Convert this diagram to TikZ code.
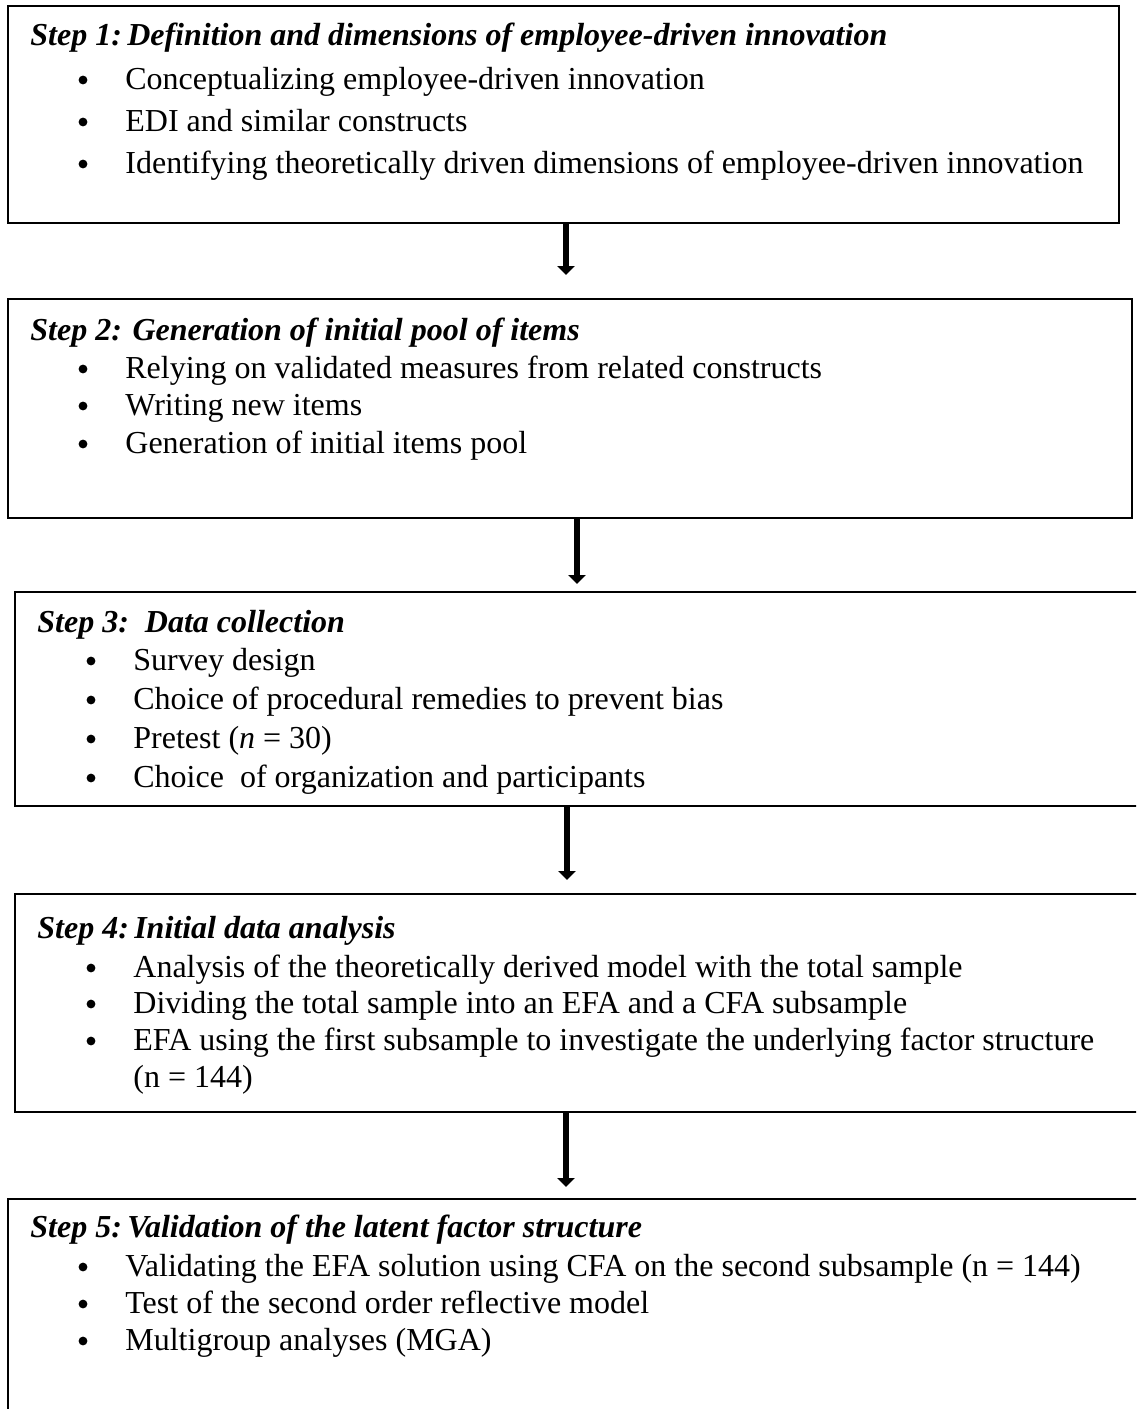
\documentclass[tikz,border=0pt]{standalone}
\usepackage{fontspec}
\setmainfont{Liberation Serif}
\usetikzlibrary{arrows.meta}
\begin{document}
\begin{tikzpicture}[x=0.5pt,y=-0.5pt,
  stepbox/.style={draw=black,line width=1.4pt,rectangle,anchor=north west,inner sep=0pt,outer sep=0pt},
  steptitle/.style={anchor=base west,inner sep=0pt,font=\fontsize{16}{18}\selectfont\bfseries\itshape},
  item/.style={anchor=base west,inner sep=0pt,font=\fontsize{16}{18}\selectfont},
  dot/.style={circle,fill=black,inner sep=0pt,minimum size=4.4pt},
  flow/.style={line width=3.4pt,-{Triangle[width=8.5pt,length=4.5pt]}}]
\useasboundingbox (0,0) rectangle (1136,1409);
\clip (0,0) rectangle (1136,1409);

% the five step boxes
\node[stepbox,minimum width=555.5pt,minimum height=108.5pt] (b1) at (8,6) {};
\node[stepbox,minimum width=562pt,minimum height=109.5pt] (b2) at (8,299) {};
\node[stepbox,minimum width=565pt,minimum height=107pt] (b3) at (15,592) {};
\node[stepbox,minimum width=565pt,minimum height=109pt] (b4) at (15,894) {};
\node[stepbox,minimum width=568.5pt,minimum height=110.5pt] (b5) at (8,1199) {};

% Step 1
\node[steptitle] (t1) at (30,45) {Step 1:\,Definition and dimensions of employee-driven innovation};
\node[dot] (d11) at (83,80) {};
\node[item] (i11) at (125,89) {Conceptualizing employee-driven innovation};
\node[dot] (d12) at (83,122) {};
\node[item] (i12) at (125,131) {EDI and similar constructs};
\node[dot] (d13) at (83,164) {};
\node[item] (i13) at (125,173) {Identifying theoretically driven dimensions of employee-driven innovation};

% Step 2
\node[steptitle] (t2) at (30,340) {Step 2: Generation of initial pool of items};
\node[dot] (d21) at (83,369) {};
\node[item] (i21) at (125,378) {Relying on validated measures from related constructs};
\node[dot] (d22) at (83,406) {};
\node[item] (i22) at (125,415) {Writing new items};
\node[dot] (d23) at (83,444) {};
\node[item] (i23) at (125,453) {Generation of initial items pool};

% Step 3
\node[steptitle] (t3) at (37,632) {Step 3:\ \ Data collection};
\node[dot] (d31) at (91,661) {};
\node[item] (i31) at (133,670) {Survey design};
\node[dot] (d32) at (91,700) {};
\node[item] (i32) at (133,709) {Choice of procedural remedies to prevent bias};
\node[dot] (d33) at (91,739) {};
\node[item] (i33) at (133,748) {Pretest (\textit{n} = 30)};
\node[dot] (d34) at (91,778) {};
\node[item] (i34) at (133,787) {Choice\ \ of organization and participants};

% Step 4
\node[steptitle] (t4) at (37,938) {Step 4:\,Initial data analysis};
\node[dot] (d41) at (91,968) {};
\node[item] (i41) at (133,977) {Analysis of the theoretically derived model with the total sample};
\node[dot] (d42) at (91,1004) {};
\node[item] (i42) at (133,1013) {Dividing the total sample into an EFA and a CFA subsample};
\node[dot] (d43) at (91,1041) {};
\node[item] (i43) at (133,1050) {EFA using the first subsample to investigate the underlying factor structure};
\node[item] (i44) at (133,1087) {(n = 144)};

% Step 5
\node[steptitle] (t5) at (30,1237) {Step 5:\,Validation of the latent factor structure};
\node[dot] (d51) at (83,1267) {};
\node[item] (i51) at (125,1276) {Validating the EFA solution using CFA on the second subsample (n = 144)};
\node[dot] (d52) at (83,1304) {};
\node[item] (i52) at (125,1313) {Test of the second order reflective model};
\node[dot] (d53) at (83,1341) {};
\node[item] (i53) at (125,1350) {Multigroup analyses (MGA)};

% arrows between the steps
\coordinate (e1) at (566,275);
\coordinate (e2) at (577,584);
\coordinate (e3) at (567,880);
\coordinate (e4) at (566,1187);
\draw[flow] (b1.south -| e1) -- (e1);
\draw[flow] (b2.south -| e2) -- (e2);
\draw[flow] (b3.south -| e3) -- (e3);
\draw[flow] (b4.south -| e4) -- (e4);
\end{tikzpicture}
\end{document}
